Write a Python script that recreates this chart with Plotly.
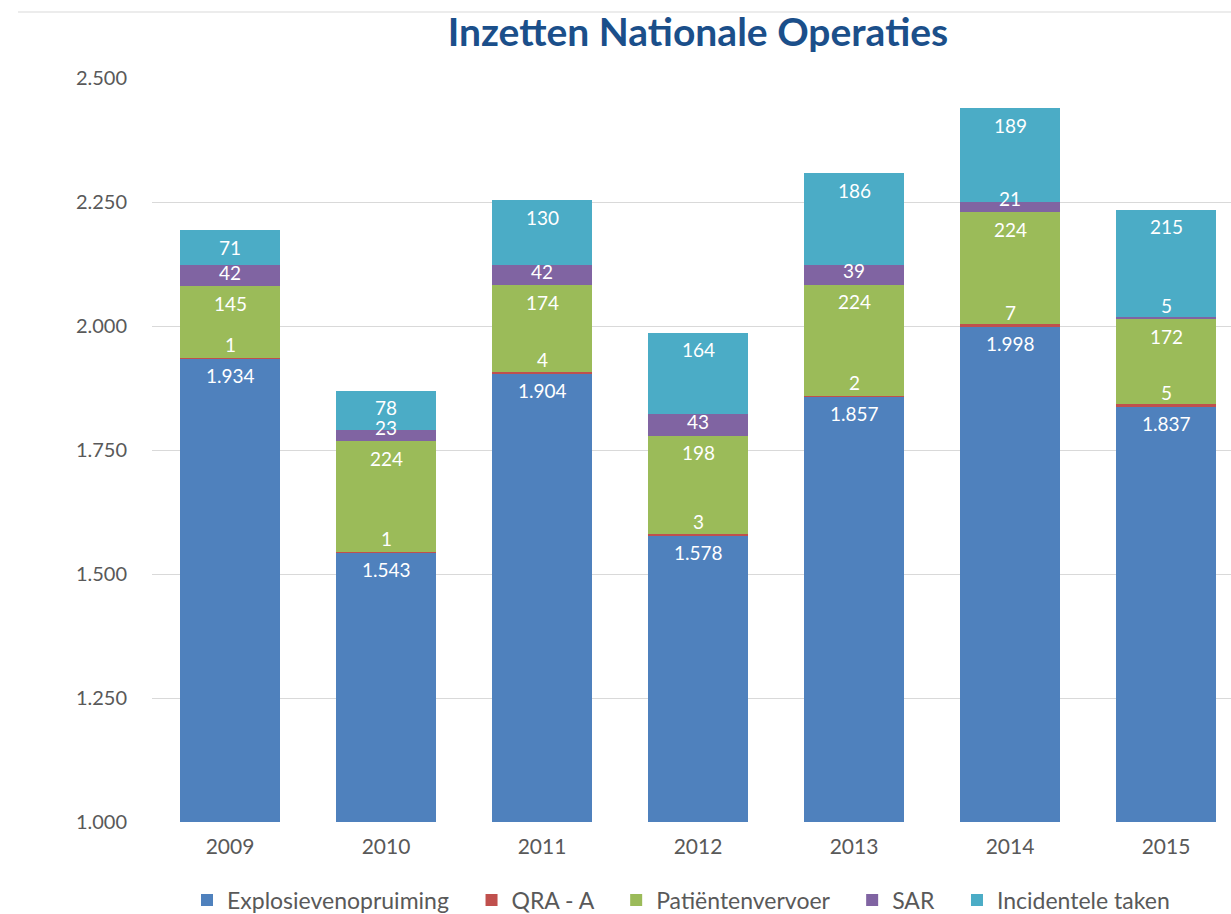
import plotly.graph_objects as go

# --- data -------------------------------------------------------------
years = ["2009", "2010", "2011", "2012", "2013", "2014", "2015"]
explosievenopruiming = [1934, 1543, 1904, 1578, 1857, 1998, 1837]
qra_a = [1, 1, 4, 3, 2, 7, 5]
patientenvervoer = [145, 224, 174, 198, 224, 224, 172]
sar = [42, 23, 42, 43, 39, 21, 5]
incidentele_taken = [71, 78, 130, 164, 186, 189, 215]

series = [
    ("Explosievenopruiming", explosievenopruiming, "#4F81BD"),
    ("QRA - A", qra_a, "#C0504D"),
    ("Patiëntenvervoer", patientenvervoer, "#9BBB59"),
    ("SAR", sar, "#8064A2"),
    ("Incidentele taken", incidentele_taken, "#4BACC6"),
]

y_min, y_max = 1000, 2500
y_ticks = [1000, 1250, 1500, 1750, 2000, 2250, 2500]

# --- layout geometry ----------------------------------------------------
W, H = 1231, 914
m_l, m_r, m_t, m_b = 152, 0, 78, 92
plot_h = H - m_t - m_b
px_per_unit = plot_h / (y_max - y_min)

FONT = "Lato"
LABEL_GREY = "#595959"
GAP = "\u00a0\u00a0\u00a0"  # extra room between legend entries

fig = go.Figure()
for name, vals, color in series:
    fig.add_trace(go.Bar(
        x=years, y=vals, name=name + GAP,
        marker=dict(color=color, line=dict(width=0)),
        width=0.64,
    ))

# value labels: near the top of each segment, pushed up when the segment is thin
annotations = []
running = [0] * len(years)
for name, vals, color in series:
    for i, v in enumerate(vals):
        running[i] += v
        top = running[i]
        h_px = v * px_per_unit
        offset = min(17.0, h_px - 14.0)
        annotations.append(dict(
            x=i, y=top, xref="x", yref="y",
            text=f"{v:,}".replace(",", "."),
            showarrow=False, yanchor="middle", xanchor="center",
            yshift=-offset,
            font=dict(family=FONT, size=19, color="white"),
        ))

fig.update_layout(
    width=W, height=H,
    margin=dict(l=m_l, r=m_r, t=m_t, b=m_b),
    barmode="stack",
    separators=",.",
    paper_bgcolor="white",
    plot_bgcolor="white",
    title=dict(
        text="<b>Inzetten Nationale Operaties</b>",
        x=698 / W, xanchor="center", xref="container",
        y=1 - 32 / H, yanchor="middle", yref="container",
        font=dict(family=FONT, size=39, color="#1B4F8A"),
    ),
    xaxis=dict(
        type="category",
        range=[-0.5, -0.5 + (W - m_l - m_r) / 156],
        showgrid=False, showline=False, zeroline=False, ticks="",
        tickfont=dict(family=FONT, size=21, color=LABEL_GREY),
        ticklabelstandoff=10,
    ),
    yaxis=dict(
        range=[y_min, y_max],
        tickvals=y_ticks, tickformat=",d",
        showgrid=True, gridcolor="#D9D9D9", gridwidth=1,
        zeroline=False, showline=False, ticks="",
        tickfont=dict(family=FONT, size=20, color=LABEL_GREY),
        ticklabelstandoff=24,
    ),
    legend=dict(
        orientation="h",
        xref="container", yref="container",
        x=690 / W, xanchor="center",
        y=1 - 900 / H, yanchor="middle",
        font=dict(family=FONT, size=23, color=LABEL_GREY),
        itemwidth=30, traceorder="normal",
    ),
    annotations=annotations,
    shapes=[dict(
        type="line", xref="paper", yref="paper",
        x0=(18 - m_l) / (W - m_l - m_r), x1=1.0,
        y0=(H - m_b - 12) / plot_h, y1=(H - m_b - 12) / plot_h,
        line=dict(color="#D9D9D9", width=1),
    )],
    showlegend=True,
)

fig.write_html("out.html")
